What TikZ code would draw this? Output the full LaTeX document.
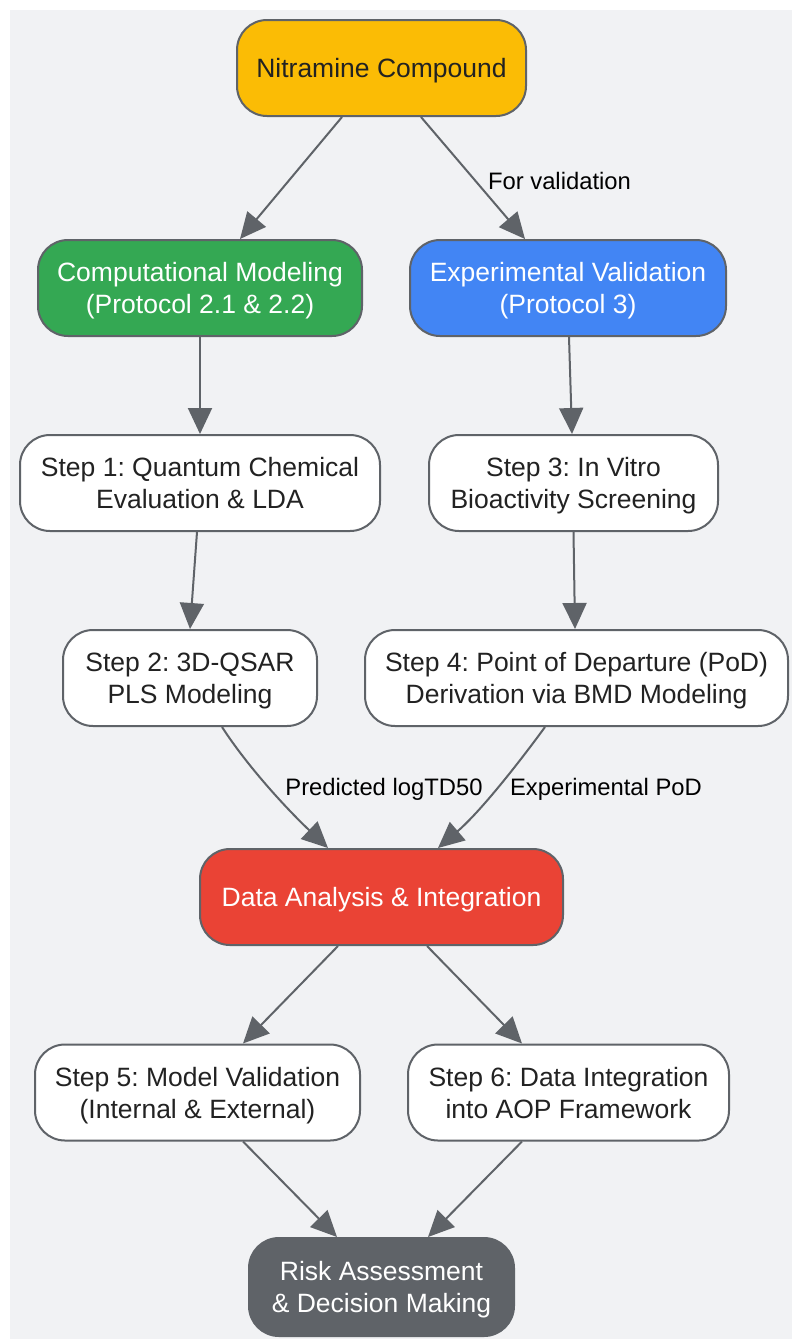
\documentclass[tikz,border=0pt]{standalone}
\usepackage{fontspec}
\setmainfont{Liberation Sans}
\usetikzlibrary{arrows.meta}
\frenchspacing
\definecolor{bg}{HTML}{F1F2F4}
\definecolor{gline}{HTML}{5F6368}
\definecolor{gyellow}{HTML}{FBBC05}
\definecolor{ggreen}{HTML}{34A853}
\definecolor{gblue}{HTML}{4285F4}
\definecolor{gred}{HTML}{EA4335}
\definecolor{tdark}{HTML}{222222}
\tikzset{
  box/.style={draw=gline, line width=2pt, rounded corners=30pt, align=center,
    minimum height=96pt, inner sep=0pt, text depth=0pt,
    font=\fontsize{26.5}{32}\selectfont\frenchspacing, text=tdark, fill=white},
  wbox/.style={box, text=white},
  conn/.style={draw=gline, line width=2pt, -{Triangle[length=26pt,width=24pt]}},
  elabel/.style={font=\fontsize{23.8}{28}\selectfont, text=black, inner sep=0pt}
}
\begin{document}
\begin{tikzpicture}[x=1pt,y=-1pt]
\useasboundingbox (0,0) rectangle (792,1339);
\fill[bg] (10,10) rectangle (792,1339);

\node[box, fill=gyellow, minimum width=289pt] (nc) at (381.5,68) {Nitramine Compound};
\node[wbox, fill=ggreen, minimum width=324pt] (cm) at (200,288) {Computational Modeling\\(Protocol 2.1 \& 2.2)};
\node[wbox, fill=gblue, minimum width=316pt] (ev) at (568,288) {Experimental Validation\\(Protocol 3)};
\node[box, minimum width=360pt] (s1) at (200,483) {Step 1: Quantum Chemical\\Evaluation \& LDA};
\node[box, minimum width=289pt] (s3) at (573.5,483) {Step 3: In Vitro\\Bioactivity Screening};
\node[box, minimum width=254pt] (s2) at (190,678) {Step 2: 3D-QSAR\\PLS Modeling};
\node[box, minimum width=423pt] (s4) at (576.5,678) {Step 4: Point of Departure (PoD)\\Derivation via BMD Modeling};
\node[wbox, fill=gred, minimum width=363pt] (da) at (381.5,897) {Data Analysis \& Integration};
\node[box, minimum width=325pt] (s5) at (197.5,1092.5) {Step 5: Model Validation\\(Internal \& External)};
\node[box, minimum width=321pt] (s6) at (568.5,1092.5) {Step 6: Data Integration\\into AOP Framework};
\node[wbox, fill=gline, minimum width=265pt, minimum height=98pt] (ra) at (381.5,1287) {Risk Assessment\\\& Decision Making};

\coordinate (nc1) at (342,117);
\coordinate (nc2) at (421,117);
\draw[conn] (nc1) -- (cm.north -| 240,0);
\draw[conn] (nc2) -- (ev.north -| 525,0);
\node[elabel] (l0) at (559.5,181) {For validation};
\draw[conn] (cm.south) -- (s1.north);
\draw[conn] (ev.south -| 569,0) -- (s3.north -| 572,0);
\draw[conn] (s1.south -| 197,0) -- (s2.north);
\draw[conn] (s3.south) -- (s4.north -| 575,0);
\draw[conn] (s2.south -| 222,0) .. controls (250,770) and (290,812) .. (da.north -| 328,0);
\draw[conn] (s4.south -| 545,0) .. controls (518,764) and (480,812) .. (da.north -| 438,0);
\node[elabel] (l1) at (384,789) {Predicted logTD50};
\node[elabel] (l2) at (606,789) {Experimental PoD};
\draw[conn] (da.south -| 338,0) -- (s5.north -| 243,0);
\draw[conn] (da.south -| 427,0) -- (s6.north -| 522,0);
\draw[conn] (s5.south -| 243,0) -- (ra.north -| 337,0);
\draw[conn] (s6.south -| 522,0) -- (ra.north -| 428,0);
\end{tikzpicture}
\end{document}
